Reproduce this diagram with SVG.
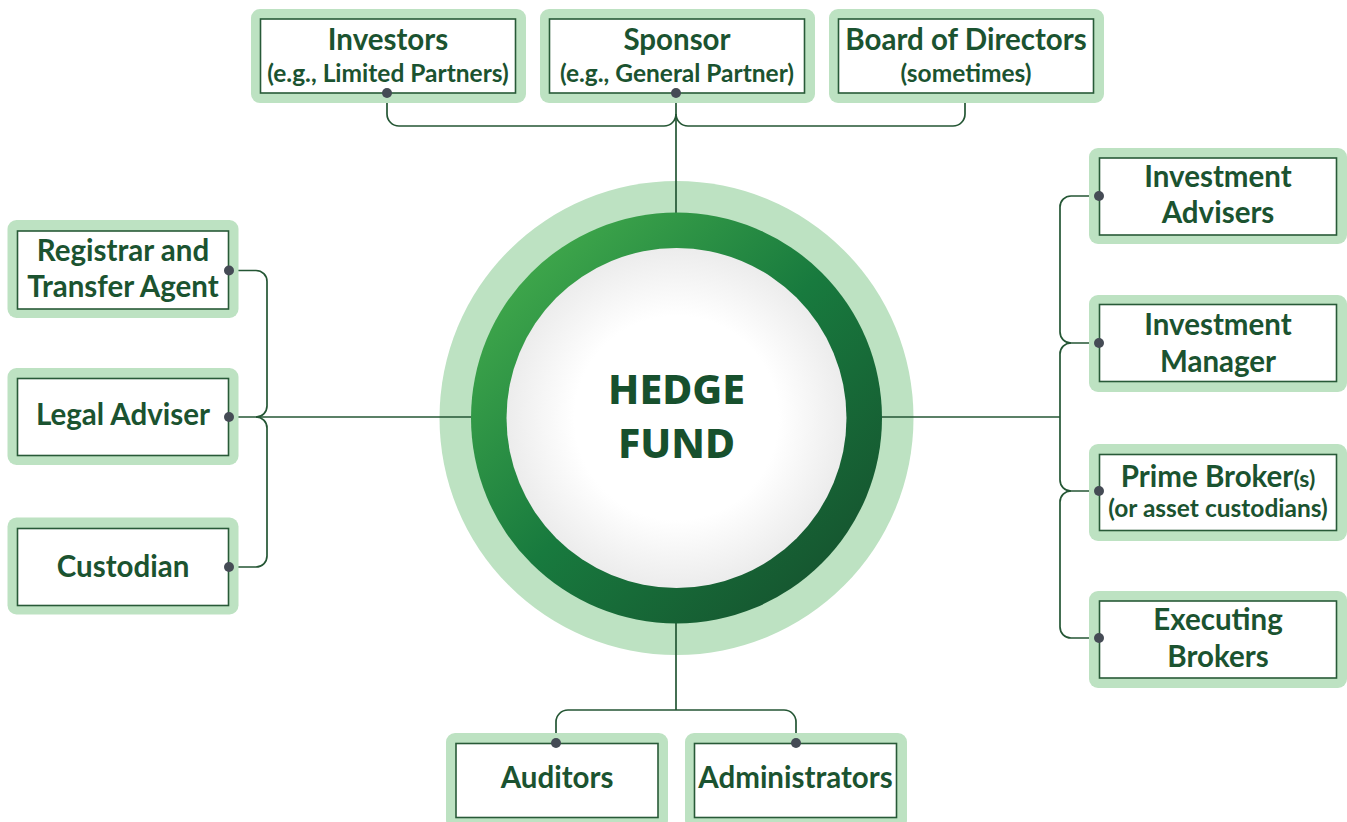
<svg xmlns="http://www.w3.org/2000/svg" width="1347" height="822" viewBox="0 0 1347 822">
<defs>
<linearGradient id="ring" x1="0" y1="0" x2="1" y2="1">
<stop offset="0" stop-color="#4cb64f"/>
<stop offset="0.5" stop-color="#187a3e"/>
<stop offset="1" stop-color="#154a2b"/>
</linearGradient>
<radialGradient id="core" cx="0.5" cy="0.5" r="0.5">
<stop offset="0.6" stop-color="#ffffff"/>
<stop offset="1" stop-color="#ececec"/>
</radialGradient>
<style>
.halo{fill:#bde2c2}
.box{fill:#ffffff;stroke:#285a38;stroke-width:1.6}
.t{font-family:"Lato","Noto Sans",sans-serif;font-weight:700;fill:#1b5330;text-anchor:middle}
.h{font-family:"Noto Sans","Lato",sans-serif;font-weight:800;font-size:41px;fill:#17502d;text-anchor:middle}
.m{font-size:29.5px}
.s{font-size:24.5px}
.c{fill:none;stroke:#245634;stroke-width:1.7}
.dot{fill:#454b55}
</style>
</defs>
<rect width="1347" height="822" fill="#ffffff"/>

<circle cx="676.5" cy="418" r="237" class="halo"/>

<g id="connectors">
<path class="c" d="M387,93 V114 A12,12 0 0 0 399,126 H664 A12,12 0 0 0 676,114"/>
<path class="c" d="M965,93 V114 A12,12 0 0 1 953,126 H688 A12,12 0 0 1 676,114"/>
<path class="c" d="M676,93 V214"/>
<path class="c" d="M229,270.5 H256 A11,11 0 0 1 267,281.5 V406 A11,11 0 0 1 256,417"/>
<path class="c" d="M256,417 A11,11 0 0 1 267,428 V556 A11,11 0 0 1 256,567 H229"/>
<path class="c" d="M229,417 H473"/>
<path class="c" d="M1099,196 H1071 A11,11 0 0 0 1060,207 V332 A11,11 0 0 0 1071,343 H1099"/>
<path class="c" d="M1071,343 A11,11 0 0 0 1060,354 V480 A11,11 0 0 0 1071,491 H1099"/>
<path class="c" d="M1071,491 A11,11 0 0 0 1060,502 V627 A11,11 0 0 0 1071,638 H1099"/>
<path class="c" d="M880,417 H1060"/>
<path class="c" d="M676,621 V710"/>
<path class="c" d="M676,710 H568 A12,12 0 0 0 556,722 V743"/>
<path class="c" d="M676,710 H784 A12,12 0 0 1 796,722 V743"/>
</g>

<g id="hedge-fund">
<circle cx="676.5" cy="418" r="205.5" fill="url(#ring)"/>
<circle cx="676.5" cy="418" r="170" fill="url(#core)"/>
<text class="h" x="676.5" y="404">HEDGE</text>
<text class="h" x="676.5" y="458">FUND</text>
</g>

<g id="investors">
<rect class="halo" x="251" y="9" width="275" height="94" rx="9"/>
<rect class="box" x="260.5" y="19" width="255" height="74"/>
<text class="t m" x="388" y="50">Investors</text>
<text class="t s" x="388" y="82">(e.g., Limited Partners)</text>
</g>
<g id="sponsor">
<rect class="halo" x="540" y="9" width="275" height="94" rx="9"/>
<rect class="box" x="549.5" y="19" width="255" height="74"/>
<text class="t m" x="677" y="50">Sponsor</text>
<text class="t s" x="677" y="82">(e.g., General Partner)</text>
</g>
<g id="board">
<rect class="halo" x="829" y="9" width="275" height="94" rx="9"/>
<rect class="box" x="838.5" y="19" width="255" height="74"/>
<text class="t m" x="966" y="50">Board of Directors</text>
<text class="t s" x="966" y="82">(sometimes)</text>
</g>

<g id="registrar">
<rect class="halo" x="7.5" y="220" width="231" height="98" rx="9"/>
<rect class="box" x="17.5" y="231" width="211" height="78"/>
<text class="t m" x="123" y="261">Registrar and</text>
<text class="t m" x="123" y="297">Transfer Agent</text>
</g>
<g id="legal">
<rect class="halo" x="7.5" y="368" width="231" height="97" rx="9"/>
<rect class="box" x="17.5" y="378.5" width="211" height="77"/>
<text class="t m" x="123" y="425">Legal Adviser</text>
</g>
<g id="custodian">
<rect class="halo" x="7.5" y="517.5" width="231" height="97" rx="9"/>
<rect class="box" x="17.5" y="528.5" width="211" height="77"/>
<text class="t m" x="123" y="577">Custodian</text>
</g>

<g id="inv-advisers">
<rect class="halo" x="1089" y="148" width="258" height="96" rx="9"/>
<rect class="box" x="1099.5" y="158" width="237" height="77"/>
<text class="t m" x="1218" y="187">Investment</text>
<text class="t m" x="1218" y="223">Advisers</text>
</g>
<g id="inv-manager">
<rect class="halo" x="1089" y="295" width="258" height="97" rx="9"/>
<rect class="box" x="1099.5" y="304.5" width="237" height="77"/>
<text class="t m" x="1218" y="335">Investment</text>
<text class="t m" x="1218" y="372">Manager</text>
</g>
<g id="prime-broker">
<rect class="halo" x="1089" y="444" width="258" height="97" rx="9"/>
<rect class="box" x="1099.5" y="454.5" width="237" height="76"/>
<text class="t m" x="1218" y="487">Prime Broker<tspan font-size="23px">(s)</tspan></text>
<text class="t s" x="1218" y="517">(or asset custodians)</text>
</g>
<g id="exec-brokers">
<rect class="halo" x="1089" y="591" width="258" height="97" rx="9"/>
<rect class="box" x="1099.5" y="601" width="237" height="77"/>
<text class="t m" x="1218" y="630">Executing</text>
<text class="t m" x="1218" y="667">Brokers</text>
</g>

<g id="auditors">
<rect class="halo" x="446" y="733" width="222" height="96" rx="9"/>
<rect class="box" x="456" y="743.5" width="202" height="74"/>
<text class="t m" x="557" y="788">Auditors</text>
</g>
<g id="administrators">
<rect class="halo" x="685" y="733" width="222" height="96" rx="9"/>
<rect class="box" x="694.5" y="743.5" width="202" height="74"/>
<text class="t m" x="795.5" y="788">Administrators</text>
</g>

<g id="dots">
<circle class="dot" cx="387" cy="93" r="5"/>
<circle class="dot" cx="676" cy="93" r="5"/>
<circle class="dot" cx="229" cy="270.5" r="5"/>
<circle class="dot" cx="229" cy="417" r="5"/>
<circle class="dot" cx="229" cy="567" r="5"/>
<circle class="dot" cx="1099" cy="196" r="5"/>
<circle class="dot" cx="1099" cy="343" r="5"/>
<circle class="dot" cx="1099" cy="491" r="5"/>
<circle class="dot" cx="1099" cy="638" r="5"/>
<circle class="dot" cx="556" cy="743" r="5"/>
<circle class="dot" cx="796" cy="743" r="5"/>
</g>
</svg>
